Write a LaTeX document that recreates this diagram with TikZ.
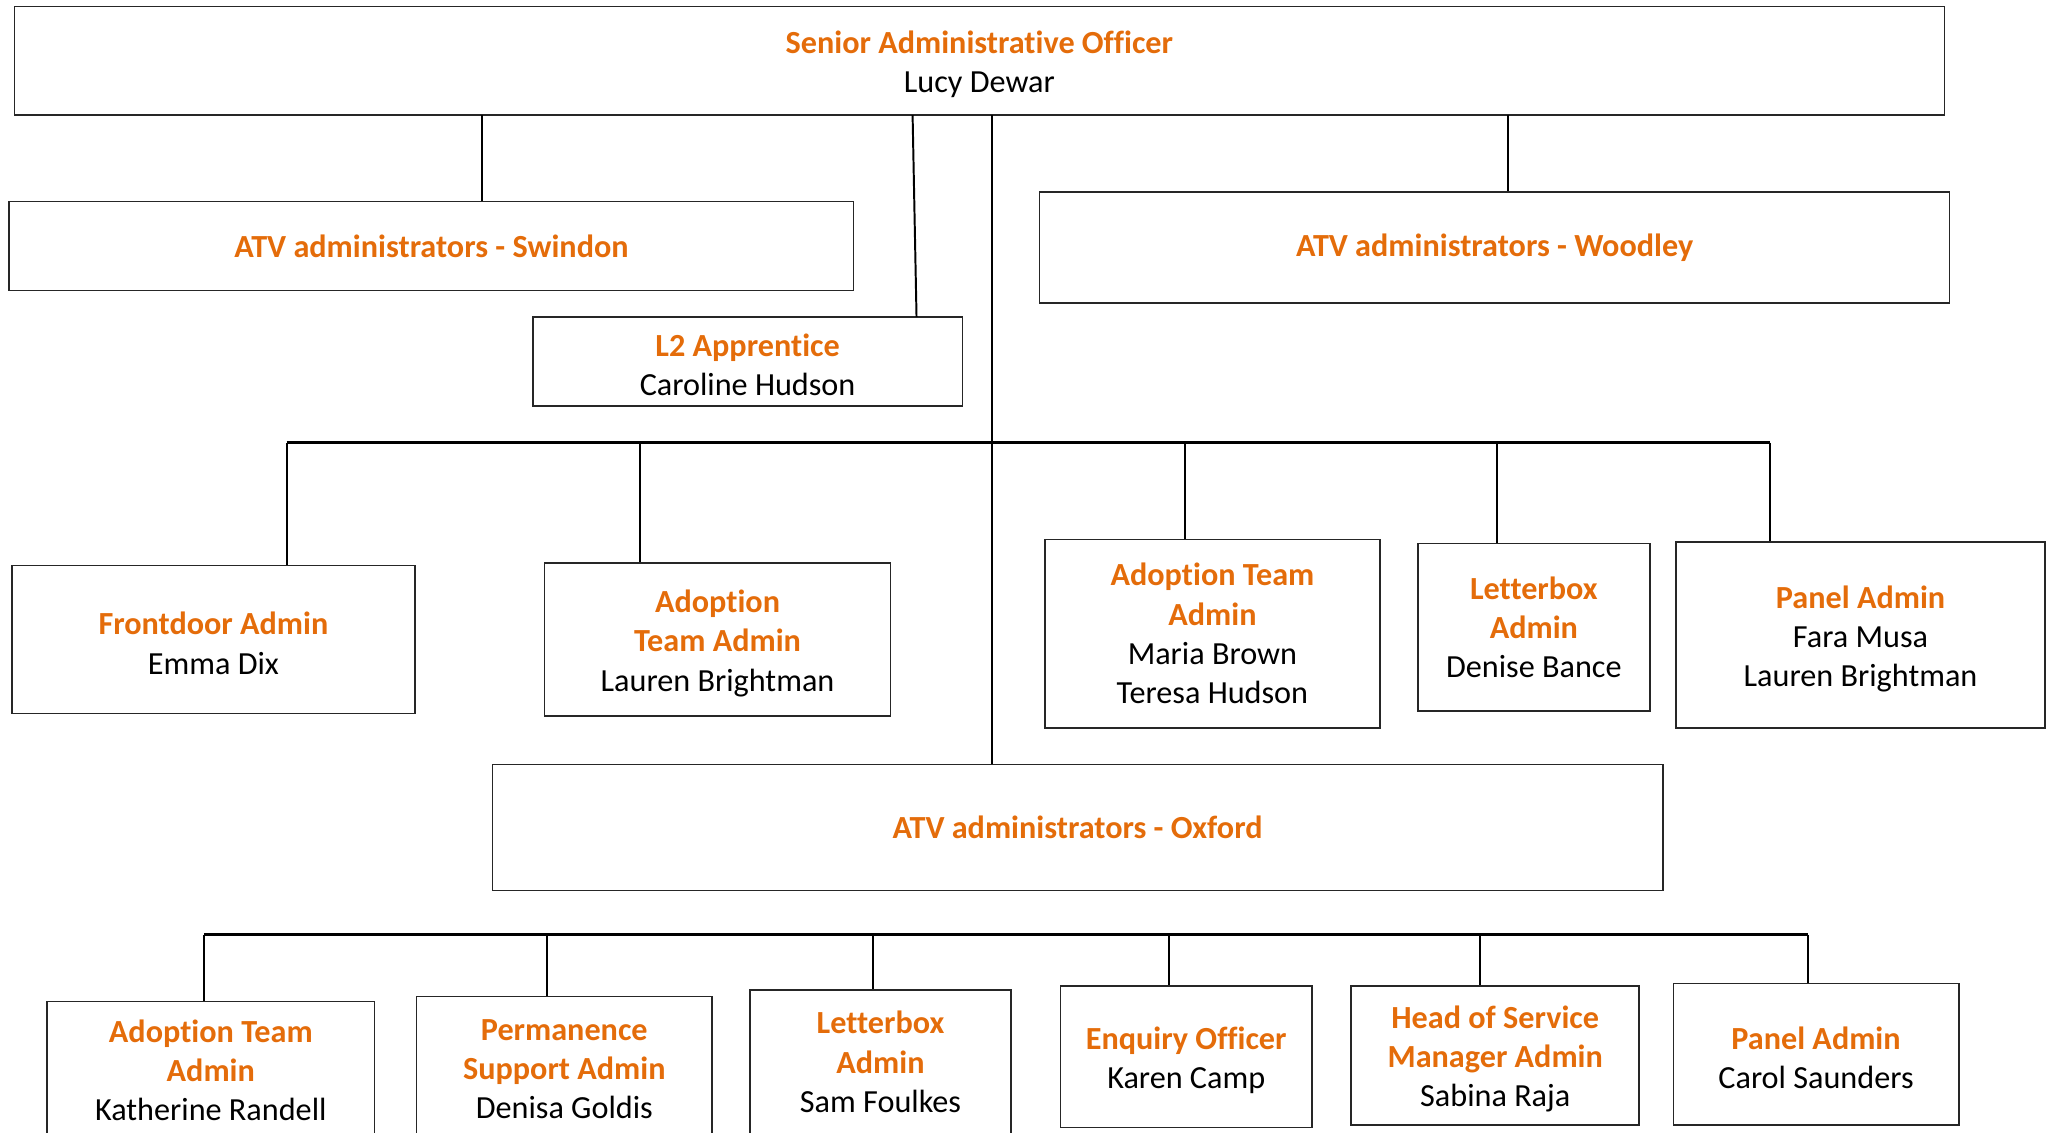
\documentclass[tikz,border=0pt]{standalone}
\usepackage{fontspec}
\setmainfont{Carlito}[Ligatures=NoCommon]
\usetikzlibrary{positioning}
\definecolor{roleorange}{HTML}{E46C0A}
\newcommand{\jobtitle}[1]{{\color{roleorange}\bfseries #1}}
\newcommand{\headroom}{\rule{0pt}{23pt}}

\begin{document}
\begin{tikzpicture}[x=1pt,y=-1pt,thick,
    role box/.style={rectangle,draw=black!85,line width=1.2pt,inner sep=0pt,
        align=center,font=\fontsize{24.6}{30}\selectfont},
    link/.style={line width=1.5pt},
    bus/.style={line width=2.4pt}]
    \useasboundingbox (0,0) rectangle (1568,865);

    % Define boxes
    \node[role box,minimum width=1474pt,minimum height=83pt] (senior) at (748,46.5)
        {\headroom\jobtitle{Senior Administrative Officer}\\Lucy Dewar};
    \node[role box,minimum width=645pt,minimum height=68pt] (swindon) at (329.5,188)
        {\jobtitle{ATV administrators - Swindon}};
    \node[role box,minimum width=695pt,minimum height=85pt] (woodley) at (1141.5,189)
        {\jobtitle{ATV administrators - Woodley}};
    \node[role box,minimum width=328pt,minimum height=68pt] (apprentice) at (571,276)
        {\headroom\jobtitle{L2 Apprentice}\\Caroline Hudson};

    \node[role box,minimum width=308pt,minimum height=113pt] (frontdoor) at (163,488.5)
        {\headroom\jobtitle{Frontdoor Admin}\\Emma Dix};
    \node[role box,minimum width=264pt,minimum height=117pt] (adoptA) at (548,488.5)
        {\headroom\jobtitle{Adoption}\\\jobtitle{Team Admin}\\Lauren Brightman};
    \node[role box,minimum width=256pt,minimum height=144pt] (adoptB) at (926,484)
        {\jobtitle{Adoption Team}\\\jobtitle{Admin}\\Maria Brown\\Teresa Hudson};
    \node[role box,minimum width=177pt,minimum height=128pt] (letterA) at (1171.5,479)
        {\jobtitle{Letterbox}\\\jobtitle{Admin}\\Denise Bance};
    \node[role box,minimum width=282pt,minimum height=142pt] (panelA) at (1421,485)
        {\headroom\jobtitle{Panel Admin}\\Fara Musa\\Lauren Brightman};

    \node[role box,minimum width=894pt,minimum height=96pt] (oxford) at (823,632)
        {\jobtitle{ATV administrators - Oxford}};

    \node[role box,minimum width=250pt,minimum height=105pt] (adoptC) at (161,817.5)
        {\jobtitle{Adoption Team}\\\jobtitle{Admin}\\Katherine Randell};
    \node[role box,minimum width=226pt,minimum height=111pt] (perm) at (431,816.5)
        {\jobtitle{Permanence}\\\jobtitle{Support Admin}\\Denisa Goldis};
    \node[role box,minimum width=199pt,minimum height=110pt] (letterB) at (672.5,811)
        {\jobtitle{Letterbox}\\\jobtitle{Admin}\\Sam Foulkes};
    \node[role box,minimum width=192pt,minimum height=108pt] (enquiry) at (906,807)
        {\headroom\jobtitle{Enquiry Officer}\\Karen Camp};
    \node[role box,minimum width=220pt,minimum height=106pt] (headserv) at (1142,806)
        {\headroom\jobtitle{Head of Service}\\\jobtitle{Manager Admin}\\Sabina Raja};
    \node[role box,minimum width=218pt,minimum height=108pt] (panelB) at (1387,805)
        {\headroom\jobtitle{Panel Admin}\\Carol Saunders};

    % Taps under the top box
    \coordinate (tapSw) at (368,88);
    \coordinate (tapAp) at (697,88);
    \coordinate (apIn) at (700,242);
    \coordinate (trunk) at (758,88);
    \coordinate (tapWo) at (1152,88);

    % Middle bus
    \coordinate (busA1) at (219,338);
    \coordinate (busA2) at (489,338);
    \coordinate (busA3) at (905,338);
    \coordinate (busA4) at (1143,338);
    \coordinate (busA5) at (1352,338);

    % Bottom bus
    \coordinate (busB1) at (156,714);
    \coordinate (busB2) at (418,714);
    \coordinate (busB3) at (667,714);
    \coordinate (busB4) at (893,714);
    \coordinate (busB5) at (1130,714);
    \coordinate (busB6) at (1381,714);

    % Draw edges
    \path[link]
        (tapSw) edge (tapSw |- swindon.north)
        (tapAp) edge (apIn)
        (tapWo) edge (tapWo |- woodley.north)
        (trunk) edge (trunk |- oxford.north);

    \draw[bus] (busA1) -- (busA5);
    \path[link]
        (busA1) edge (busA1 |- frontdoor.north)
        (busA2) edge (busA2 |- adoptA.north)
        (busA3) edge (busA3 |- adoptB.north)
        (busA4) edge (busA4 |- letterA.north)
        (busA5) edge (busA5 |- panelA.north);

    \draw[bus] (busB1) -- (busB6);
    \path[link]
        (busB1) edge (busB1 |- adoptC.north)
        (busB2) edge (busB2 |- perm.north)
        (busB3) edge (busB3 |- letterB.north)
        (busB4) edge (busB4 |- enquiry.north)
        (busB5) edge (busB5 |- headserv.north)
        (busB6) edge (busB6 |- panelB.north);

\end{tikzpicture}
\end{document}
